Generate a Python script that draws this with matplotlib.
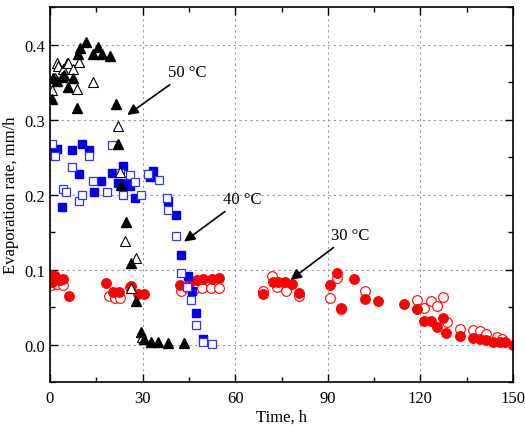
import matplotlib.pyplot as plt
import numpy as np

plt.rcParams['font.family'] = 'Liberation Serif'

# 50 C - filled / open triangles
t50_fill_x = [0.5, 1.1, 2.2, 3.8, 4.5, 5.9, 7.6, 8.6, 9.2, 9.7, 11.7, 14.0, 15.7, 17.0, 19.4,
              21.4, 22.1, 23.0, 24.5, 26.1, 27.9, 29.5, 30.6, 32.7, 35.1, 38.3, 43.4]
t50_fill_y = [0.328, 0.355, 0.352, 0.357, 0.360, 0.344, 0.355, 0.316, 0.388, 0.395, 0.404, 0.388,
              0.397, 0.388, 0.385, 0.321, 0.268, 0.213, 0.164, 0.109, 0.058, 0.017, 0.007, 0.004,
              0.003, 0.002, 0.002]
t50_open_x = [0.5, 1.5, 2.2, 2.7, 4.3, 5.4, 5.9, 7.5, 8.6, 9.5, 14.0, 22.1, 22.7, 24.4, 26.2, 28.0, 29.7]
t50_open_y = [0.339, 0.355, 0.375, 0.372, 0.368, 0.375, 0.375, 0.368, 0.341, 0.377, 0.350, 0.292,
              0.230, 0.138, 0.075, 0.115, 0.010]

# 40 C - filled / open squares
t40_fill_x = [0.3, 2.2, 3.8, 7.0, 9.5, 10.3, 12.7, 14.3, 16.5, 20.2, 22.0, 23.5, 24.8, 25.9, 27.4,
              32.4, 33.5, 38.3, 40.8, 42.3, 44.7, 45.9, 47.3, 49.5]
t40_fill_y = [0.262, 0.261, 0.184, 0.260, 0.227, 0.268, 0.260, 0.204, 0.218, 0.229, 0.215, 0.238,
              0.215, 0.212, 0.196, 0.224, 0.232, 0.192, 0.173, 0.119, 0.092, 0.072, 0.042, 0.007]
t40_open_x = [0.5, 1.6, 4.3, 5.1, 7.0, 9.4, 10.3, 12.7, 14.0, 18.4, 20.0, 22.7, 23.7, 25.9, 27.5,
              29.5, 31.8, 35.4, 37.8, 38.2, 40.8, 42.3, 44.3, 45.6, 47.3, 49.7, 52.4]
t40_open_y = [0.268, 0.252, 0.208, 0.204, 0.237, 0.192, 0.199, 0.252, 0.218, 0.204, 0.266, 0.229,
              0.199, 0.226, 0.217, 0.200, 0.228, 0.220, 0.195, 0.180, 0.145, 0.095, 0.077, 0.060,
              0.026, 0.003, 0.001]

# 30 C - filled / open circles
t30_fill_x = [0.3, 0.5, 1.6, 3.2, 4.3, 6.2, 18.0, 20.5, 22.4, 26.2, 28.6, 30.6, 42.1, 45.3, 47.5,
              49.7, 52.4, 54.8, 68.9, 72.1, 74.0, 76.1, 78.3, 80.8, 90.7, 93.1, 94.3, 98.6, 102.0,
              106.1, 114.6, 118.9, 121.0, 123.3, 125.4, 127.4, 128.3, 132.9, 136.9, 139.3, 141.4,
              143.6, 145.7, 147.5, 150.0]
t30_fill_y = [0.093, 0.084, 0.092, 0.086, 0.088, 0.065, 0.082, 0.070, 0.070, 0.078, 0.068, 0.068,
              0.079, 0.084, 0.086, 0.087, 0.088, 0.089, 0.068, 0.083, 0.083, 0.083, 0.081, 0.069,
              0.080, 0.095, 0.049, 0.087, 0.061, 0.058, 0.054, 0.047, 0.031, 0.031, 0.024, 0.036,
              0.015, 0.011, 0.009, 0.007, 0.006, 0.004, 0.004, 0.003, 0.0]
t30_open_x = [0.3, 2.2, 4.3, 19.0, 21.0, 22.7, 26.0, 42.3, 44.8, 47.3, 49.4, 52.0, 54.8, 68.9, 71.8,
              73.4, 76.5, 80.8, 90.7, 93.1, 94.2, 102.0, 119.0, 121.2, 123.3, 125.5, 127.2, 128.5,
              132.8, 136.9, 139.3, 141.4, 144.9, 146.5]
t30_open_y = [0.080, 0.081, 0.079, 0.065, 0.062, 0.062, 0.077, 0.071, 0.075, 0.076, 0.076, 0.076,
              0.076, 0.071, 0.091, 0.077, 0.071, 0.065, 0.062, 0.089, 0.047, 0.071, 0.059, 0.049,
              0.058, 0.052, 0.064, 0.030, 0.021, 0.020, 0.018, 0.014, 0.010, 0.008]

fig = plt.figure(figsize=(5.25, 4.27), dpi=100)
ax = fig.add_axes([0.0952, 0.103, 0.882, 0.878])

# 30 C
ax.plot(t30_open_x, t30_open_y, 'o', mfc='white', mec='#ff0000', markersize=7, markeredgewidth=0.8)
ax.plot(t30_fill_x, t30_fill_y, 'o', color='#ff0000', markersize=7, markeredgewidth=0.8)
# 40 C
ax.plot(t40_fill_x, t40_fill_y, 's', color='#0000ee', markersize=5.5)
ax.plot(t40_open_x, t40_open_y, 's', mfc='white', mec='#3333ff', markersize=5.5, markeredgewidth=0.9)
# 50 C
ax.plot(t50_open_x, t50_open_y, '^', mfc='white', mec='black', markersize=7.5, markeredgewidth=0.8)
ax.plot(t50_fill_x, t50_fill_y, '^', color='black', markersize=7.5)

arrow = dict(arrowstyle='-|>', color='black', lw=1.2, mutation_scale=16)
ax.annotate('50 °C', xy=(24.3, 0.304), xytext=(38.2, 0.363), fontsize=12,
            va='center', ha='left', arrowprops=arrow)
ax.annotate('40 °C', xy=(42.7, 0.135), xytext=(55.9, 0.194), fontsize=12,
            va='center', ha='left', arrowprops=arrow)
ax.annotate('30 °C', xy=(77.2, 0.084), xytext=(91.0, 0.146), fontsize=12,
            va='center', ha='left', arrowprops=arrow)

ax.set_xlim(0, 150)
ax.set_ylim(-0.05, 0.45)
ax.set_xticks([0, 30, 60, 90, 120, 150])
ax.set_xticks([15, 45, 75, 105, 135], minor=True)
ax.set_yticks([0.0, 0.1, 0.2, 0.3, 0.4])
ax.set_yticks([-0.05, 0.05, 0.15, 0.25, 0.35, 0.45], minor=True)
ax.set_yticklabels(['0.0', '0.1', '0.2', '0.3', '0.4'])
ax.tick_params(which='both', direction='in', top=True, right=True, labelsize=12, width=1)
ax.tick_params(which='major', length=6)
ax.tick_params(which='minor', length=3.5)
ax.tick_params(axis='x', pad=6)
for s in ax.spines.values():
    s.set_linewidth(1.2)

ax.grid(True, which='major', color='#999999', linestyle=(0, (2, 3)), linewidth=0.8)
ax.set_axisbelow(True)

ax.set_xlabel('Time, h', fontsize=12, labelpad=2)
ax.set_ylabel('Evaporation rate, mm/h', fontsize=12)

plt.savefig('out.png', dpi=100)
